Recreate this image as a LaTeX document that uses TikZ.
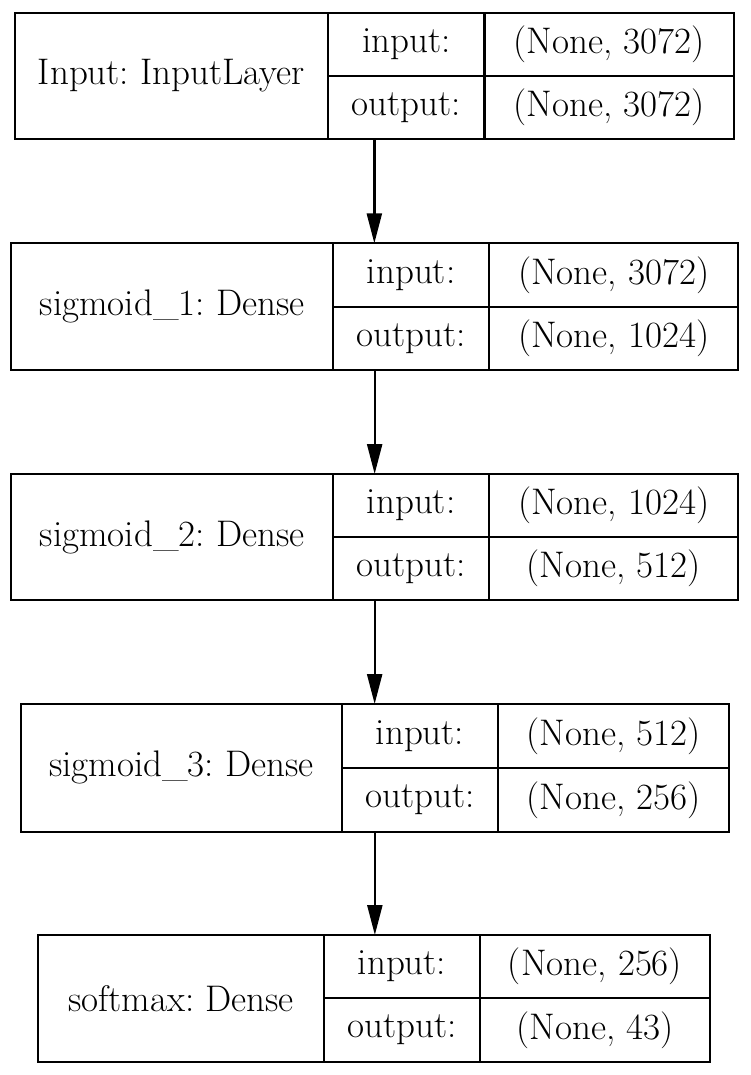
\documentclass[tikz,border=0pt]{standalone}
\usetikzlibrary{arrows.meta}
\frenchspacing
\begin{document}
\begin{tikzpicture}[x=1pt,y=-1pt,
  frame/.style={draw, line width=2.3pt, inner sep=0pt, outer sep=0pt},
  cell/.style={draw, line width=2.3pt, inner sep=0pt, outer sep=0pt, font=\fontsize{37}{40}\selectfont},
  arr/.style={line width=2.3pt, -{Triangle[length=30pt,width=15pt]}}]
\useasboundingbox (0,0) rectangle (750,1075);
\foreach \n/\l/\a/\b/\r/\t/\m/\bt/\lab/\in/\out in {
  1/14.7/328/484.5/734/12.7/76/139/{Input: InputLayer}/{(None, 3072)}/{(None, 3072)},
  2/11/333.3/489/738.3/243.3/306.7/370/{sigmoid\_1: Dense}/{(None, 3072)}/{(None, 1024)},
  3/11/333.3/489/738.3/474/537.3/600/{sigmoid\_2: Dense}/{(None, 1024)}/{(None, 512)},
  4/20.7/342/498/729/704/768/831.7/{sigmoid\_3: Dense}/{(None, 512)}/{(None, 256)},
  5/38/324/480/710/935/998/1061.7/{softmax: Dense}/{(None, 256)}/{(None, 43)}}{
  \node[frame, minimum width={\r-\l}, minimum height={\bt-\t}] (L\n) at ({(\l+\r)/2},{(\t+\bt)/2}) {};
  \node[cell, minimum width={\a-\l}, minimum height={\bt-\t}] (N\n) at ({(\l+\a)/2},{(\t+\bt)/2}) {\lab};
  \node[cell, minimum width={\b-\a}, minimum height={\m-\t}] (I\n) at ({(\a+\b)/2},{(\t+\m)/2}) {input:};
  \node[cell, minimum width={\b-\a}, minimum height={\bt-\m}] (O\n) at ({(\a+\b)/2},{(\m+\bt)/2}) {output:};
  \node[cell, minimum width={\r-\b}, minimum height={\m-\t}] (IV\n) at ({(\b+\r)/2},{(\t+\m)/2}) {\in};
  \node[cell, minimum width={\r-\b}, minimum height={\bt-\m}] (OV\n) at ({(\b+\r)/2},{(\m+\bt)/2}) {\out};
}
\foreach \i/\j in {1/2,2/3,3/4,4/5}{
  \draw[arr] (L\i.south) -- (L\i.south |- L\j.north);
}
\end{tikzpicture}
\end{document}
